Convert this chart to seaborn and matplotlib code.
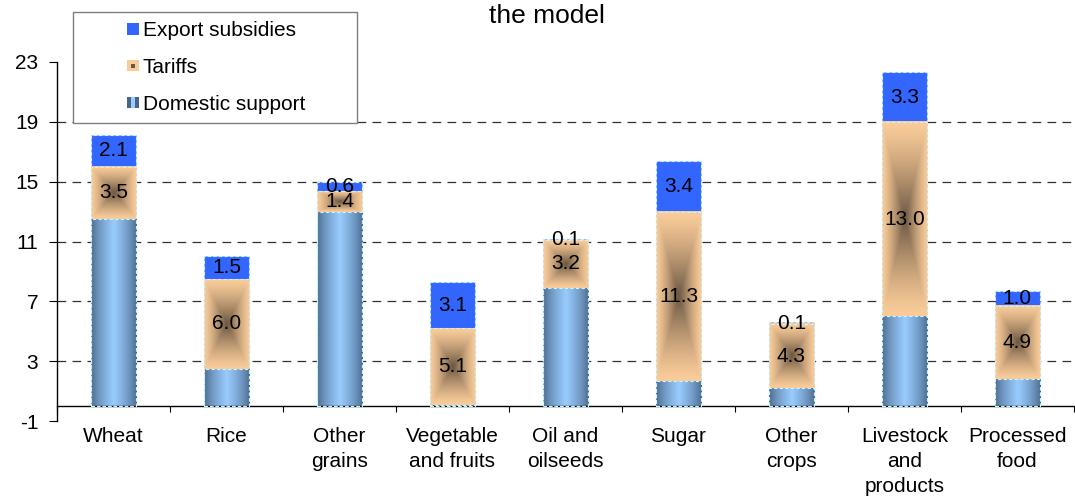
import matplotlib

matplotlib.use("Agg")

import matplotlib.pyplot as plt
import numpy as np
import pandas as pd
import seaborn as sns
from matplotlib.legend_handler import HandlerBase
from matplotlib.patches import Patch, Rectangle


CATEGORIES = [
	"Wheat",
	"Rice",
	"Other\ngrains",
	"Vegetable\nand fruits",
	"Oil and\noilseeds",
	"Sugar",
	"Other\ncrops",
	"Livestock\nand\nproducts",
	"Processed\nfood",
]
DOMESTIC_SUPPORT = [12.5, 2.5, 13.0, 0.1, 7.9, 1.7, 1.2, 6.0, 1.8]
TARIFFS = [3.5, 6.0, 1.4, 5.1, 3.2, 11.3, 4.3, 13.0, 4.9]
EXPORT_SUBSIDIES = [2.1, 1.5, 0.6, 3.1, 0.1, 3.4, 0.1, 3.3, 1.0]
SERIES_LABELS = ["Export subsidies", "Tariffs", "Domestic support"]
Y_TICKS = [-1, 3, 7, 11, 15, 19, 23]
TITLE = "the model"

EXPORT_BLUE = "#3366ff"
DARK_BLUE = np.array([0.28, 0.40, 0.53])
LIGHT_BLUE = np.array([0.60, 0.80, 1.00])
PEACH = np.array([0.98, 0.80, 0.60])
DARK_BROWN = np.array([0.42, 0.34, 0.26])
EDGE_COLOR = "#c8f4ff"
FONT_SIZE = 15


def blue_gradient(n: int = 64) -> np.ndarray:
	u = np.linspace(-1, 1, n)
	s = (1 - np.abs(u)) ** 0.7
	row = DARK_BLUE + (LIGHT_BLUE - DARK_BLUE) * s[:, None]
	return np.repeat(row[None, :, :], 2, axis=0)


def peach_gradient(n: int = 90) -> np.ndarray:
	# rectangular "from centre" fill: dark in the middle, peach at every edge
	u = np.abs(np.linspace(-1, 1, n))
	t = np.maximum(u[None, :], u[:, None])
	s = (1 - t) ** 1.3
	return PEACH + (DARK_BROWN - PEACH) * s[..., None]


class SwatchHandler(HandlerBase):
	def __init__(self, inner_color=None, inner_frac=(0.4, 0.4)):
		super().__init__()
		self.inner_color = inner_color
		self.inner_frac = inner_frac

	def create_artists(self, legend, orig_handle, xdescent, ydescent, width, height, fontsize, trans):
		side = 8.0
		x0 = width - xdescent - side
		y0 = -ydescent + (height - side) / 2
		artists = [Rectangle((x0, y0), side, side, facecolor=orig_handle.get_facecolor(), edgecolor="none", transform=trans)]
		if self.inner_color is not None:
			iw = side * self.inner_frac[0]
			ih = side * self.inner_frac[1]
			artists.append(Rectangle((x0 + (side - iw) / 2, y0 + (side - ih) / 2), iw, ih,
				facecolor=self.inner_color, edgecolor="none", transform=trans))
		return artists


def build_frame() -> pd.DataFrame:
	frame = pd.DataFrame({
		"category": CATEGORIES,
		"domestic": DOMESTIC_SUPPORT,
		"tariffs": TARIFFS,
		"export": EXPORT_SUBSIDIES,
	})
	frame["tariff_top"] = frame["domestic"] + frame["tariffs"]
	frame["total"] = frame["tariff_top"] + frame["export"]
	return frame


def draw_bars(frame: pd.DataFrame, ax) -> None:
	layers = {}
	for column in ["total", "tariff_top", "domestic"]:
		sns.barplot(data=frame, x="category", y=column, color=EXPORT_BLUE, saturation=1,
			width=0.4, errorbar=None, ax=ax, zorder=1)
		layers[column] = ax.containers[-1]

	for bar in layers["total"]:
		bar.set_edgecolor(EDGE_COLOR)
		bar.set_linestyle((0, (3, 2)))
		bar.set_linewidth(0.8)
	for column in ["tariff_top", "domestic"]:
		for bar in layers[column]:
			bar.set_facecolor("none")
			bar.set_edgecolor(EDGE_COLOR)
			bar.set_linestyle((0, (3, 2)))
			bar.set_linewidth(0.8)
			bar.set_zorder(3)

	for bar, row in zip(layers["domestic"], frame.itertuples()):
		x0, w = bar.get_x(), bar.get_width()
		ax.imshow(blue_gradient(), extent=(x0, x0 + w, 0, row.domestic), aspect="auto",
			interpolation="bilinear", zorder=2)
		ax.imshow(peach_gradient(), extent=(x0, x0 + w, row.domestic, row.tariff_top), aspect="auto",
			interpolation="bilinear", zorder=2)
		ax.text(x0 + w / 2, row.domestic + row.tariffs / 2, f"{row.tariffs:.1f}",
			ha="center", va="center", fontsize=FONT_SIZE, color="black", zorder=4)
		ax.text(x0 + w / 2, row.tariff_top + row.export / 2, f"{row.export:.1f}",
			ha="center", va="center", fontsize=FONT_SIZE, color="black", zorder=4)


def style_axes(ax) -> None:
	ax.set_xlim(-0.5, len(CATEGORIES) - 0.5)
	ax.set_ylim(Y_TICKS[0], Y_TICKS[-1])
	ax.set_yticks(Y_TICKS)
	ax.set_xlabel("")
	ax.set_ylabel("")

	ax.spines["top"].set_visible(False)
	ax.spines["right"].set_visible(False)
	ax.spines["bottom"].set_position(("data", 0))
	for side in ["left", "bottom"]:
		ax.spines[side].set_linewidth(1.0)
		ax.spines[side].set_color("black")

	ax.set_xticks(np.arange(-0.5, len(CATEGORIES), 1.0), minor=True)
	ax.tick_params(axis="x", which="major", length=0, pad=15, labelsize=FONT_SIZE, labelcolor="black")
	ax.tick_params(axis="x", which="minor", length=4.5, width=0.8, direction="out", color="black")
	ax.tick_params(axis="y", length=5.5, width=0.8, pad=8, labelsize=FONT_SIZE, color="black", labelcolor="black")
	for label in ax.get_xticklabels():
		label.set_linespacing(1.4)

	ax.set_axisbelow(True)
	ax.yaxis.grid(True, color="#303030", linestyle=(0, (7, 5)), linewidth=0.9)
	gridlines = ax.yaxis.get_gridlines()
	gridlines[0].set_visible(False)
	gridlines[-1].set_visible(False)


def add_legend(ax) -> None:
	handles = [Patch(facecolor=EXPORT_BLUE), Patch(facecolor=PEACH), Patch(facecolor=DARK_BLUE)]
	handler_map = {
		handles[0]: SwatchHandler(None),
		handles[1]: SwatchHandler(DARK_BROWN, (0.4, 0.4)),
		handles[2]: SwatchHandler(LIGHT_BLUE, (0.35, 1.0)),
	}
	legend = ax.legend(
		handles,
		SERIES_LABELS,
		handler_map=handler_map,
		loc="upper left",
		bbox_to_anchor=(0.0157, 0.80, 0.279, 0.339),
		mode="expand",
		borderaxespad=0,
		borderpad=0.45,
		handlelength=2.7,
		handletextpad=0.2,
		labelspacing=0.85,
		fontsize=FONT_SIZE,
		fancybox=False,
		edgecolor="#7f7f7f",
		framealpha=1,
		labelcolor="black",
	)
	legend.get_frame().set_linewidth(1.0)
	legend.set_zorder(5)


def main() -> None:
	sns.set_style("ticks")
	plt.rcParams["font.family"] = ["Liberation Sans", "DejaVu Sans"]
	plt.rcParams["axes.unicode_minus"] = False
	plt.rcParams["text.color"] = "black"

	frame = build_frame()
	fig = plt.figure(figsize=(10.75, 4.99), dpi=100)
	ax = fig.add_axes([0.053, 0.156, 0.946, 0.72])

	draw_bars(frame, ax)
	style_axes(ax)
	add_legend(ax)
	fig.text(0.509, 1 - 16 / 499, TITLE, ha="center", va="center", fontsize=19, color="black")

	fig.savefig("out.png", dpi=100)
	plt.close(fig)


if __name__ == "__main__":
	main()
